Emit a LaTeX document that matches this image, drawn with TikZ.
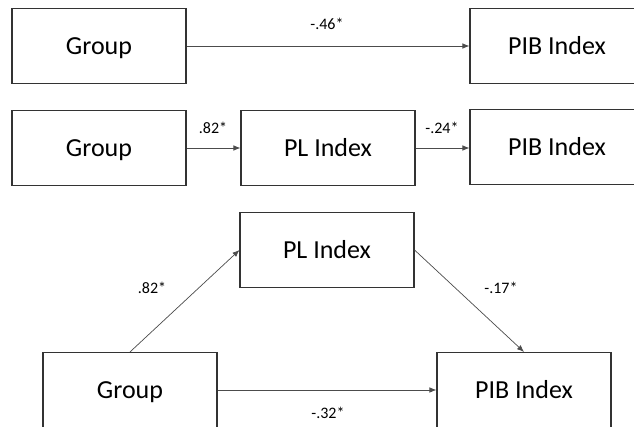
\documentclass[tikz,border=0pt]{standalone}
\usepackage{fontspec}
\setmainfont{Carlito}
\usetikzlibrary{arrows.meta}
\begin{document}
\begin{tikzpicture}[x=1pt,y=-1pt,
  box/.style={draw=black!80,line width=1.1pt,minimum width=174pt,minimum height=75pt,inner sep=0pt,text height=16.5pt,text depth=0pt,font=\fontsize{26}{30}\selectfont,text=black},
  conn/.style={draw=black!70,line width=0.7pt,-{Latex[length=7pt,width=5.5pt]}},
  lab/.style={font=\fontsize{16}{19}\selectfont,text=black,inner sep=0pt,text height=10pt,text depth=0pt}]
\clip (0,0) rectangle (634,426);
\fill[white] (0,0) rectangle (634,426);
% row 1
\node[box] (g1) at (99,46) {Group};
\node[box] (p1) at (557,46) {PIB Index};
\draw[conn] (g1) -- (p1);
\node[lab] (l1) at (327,24) {-.46*};
% row 2
\node[box] (g2) at (99,148) {Group};
\node[box] (m2) at (328,148) {PL Index};
\node[box] (p2) at (557,147) {PIB Index};
\draw[conn] (g2.east) -- (g2.east -| m2.west);
\draw[conn] (m2.east) -- (m2.east -| p2.west);
\node[lab] (l2) at (213,128) {.82*};
\node[lab] (l3) at (442,128) {-.24*};
% row 3
\node[box] (m3) at (327,250) {PL Index};
\node[box] (g3) at (130,390) {Group};
\node[box] (p3) at (524,390) {PIB Index};
\draw[conn] (g3.north) -- (m3.west);
\draw[conn] (m3.east) -- (p3.north);
\draw[conn] (g3) -- (p3);
\node[lab] (l4) at (152,288) {.82*};
\node[lab] (l5) at (501,288) {-.17*};
\node[lab] (l6) at (328,413) {-.32*};
\end{tikzpicture}
\end{document}
